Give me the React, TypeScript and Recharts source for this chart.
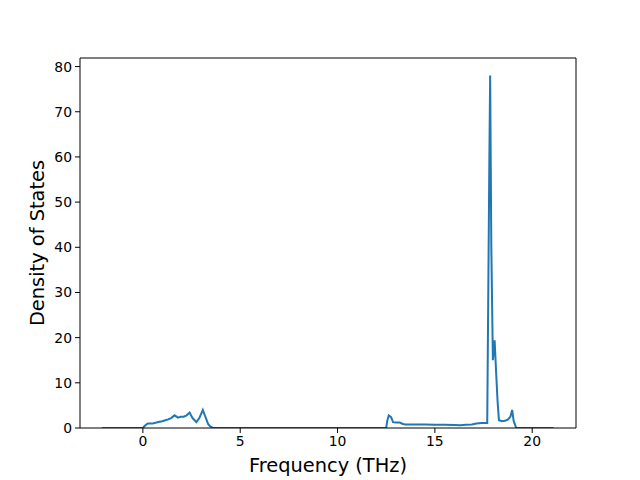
import React from "react";
import { LineChart, Line, XAxis, YAxis, Label, ReferenceLine } from "recharts";

// frequency (THz) and density of states
const freq = [
  -2.1, -1.0, 0.0, 0.1, 0.25, 0.5, 0.7, 0.85, 1.0, 1.15, 1.3, 1.45, 1.63, 1.8,
  1.95, 2.1, 2.25, 2.4, 2.55, 2.75, 2.9, 3.08, 3.2, 3.35, 3.45, 3.6, 5.0, 8.0,
  11.0, 12.5, 12.55, 12.63, 12.75, 12.85, 13.0, 13.2, 13.35, 13.5, 14.0, 14.5,
  15.0, 15.5, 16.0, 16.3, 16.6, 16.9, 17.14, 17.4, 17.69, 17.8, 17.84, 17.9,
  17.98, 18.07, 18.15, 18.22, 18.29, 18.45, 18.6, 18.75, 18.88, 18.97, 19.05,
  19.18, 20.0, 21.1,
];
const dos = [
  0, 0, 0, 0.5, 1.0, 1.0, 1.2, 1.4, 1.5, 1.7, 1.9, 2.2, 2.8, 2.3, 2.5, 2.5, 2.8,
  3.4, 2.2, 1.3, 2.2, 4.0, 2.6, 0.9, 0.4, 0, 0, 0, 0, 0, 1.5, 2.8, 2.4, 1.3,
  1.2, 1.2, 0.9, 0.8, 0.8, 0.75, 0.7, 0.7, 0.65, 0.6, 0.7, 0.8, 1.0, 1.1, 1.1,
  60.0, 78.0, 40.0, 15.0, 19.4, 12.0, 6.0, 1.7, 1.5, 1.6, 1.85, 2.5, 4.0, 1.5,
  0, 0, 0,
];

const xTicks = [0, 5, 10, 15, 20];
const yTicks = [0, 10, 20, 30, 40, 50, 60, 70, 80];
const xDomain = [-3.23, 22.25];
const yDomain = [0, 81.9];

const data = freq.map((f, i) => ({ f, d: dos[i] }));

const font = "DejaVu Sans, sans-serif";
const tickStyle = { fontSize: 13.9, fill: "#000", fontFamily: font };

export default function App() {
  return (
    <div style={{ position: "absolute", left: 0, top: 0, background: "#fff" }}>
      <LineChart
        width={640}
        height={480}
        data={data}
        margin={{ top: 58, right: 64, bottom: 0, left: 0 }}
      >
        <XAxis
          dataKey="f"
          type="number"
          domain={xDomain}
          allowDataOverflow
          ticks={xTicks}
          height={52}
          tick={tickStyle}
          tickSize={5}
          tickMargin={3}
          stroke="#000"
          tickLine={{ stroke: "#000" }}
        >
          <Label
            value="Frequency (THz)"
            position="insideBottom"
            offset={8}
            style={{ fontSize: 19.4, fill: "#000", fontFamily: font }}
          />
        </XAxis>
        <YAxis
          type="number"
          domain={yDomain}
          allowDataOverflow
          ticks={yTicks}
          width={80}
          tick={tickStyle}
          tickSize={5}
          tickMargin={3}
          stroke="#000"
          tickLine={{ stroke: "#000" }}
        >
          <Label
            value="Density of States"
            angle={-90}
            position="insideLeft"
            offset={37}
            style={{ fontSize: 19.4, fill: "#000", fontFamily: font, textAnchor: "middle" }}
          />
        </YAxis>
        {/* top and right frame edges */}
        <ReferenceLine y={yDomain[1]} stroke="#000" ifOverflow="visible" />
        <ReferenceLine x={xDomain[1]} stroke="#000" ifOverflow="visible" />
        <Line
          dataKey="d"
          type="linear"
          stroke="#1f77b4"
          strokeWidth={2}
          dot={false}
          isAnimationActive={false}
        />
      </LineChart>
    </div>
  );
}
